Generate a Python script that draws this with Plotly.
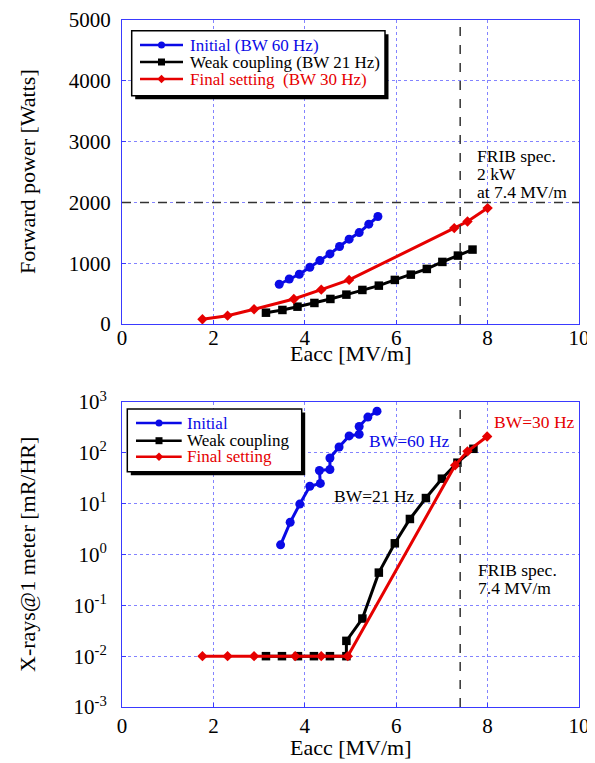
import plotly.graph_objects as go

# ---------------- data ----------------
# Top panel: forward power [W] vs Eacc [MV/m]
E_init_P = [3.44, 3.66, 3.88, 4.11, 4.33, 4.55, 4.76, 4.97, 5.19, 5.40, 5.60]
P_init = [654, 741, 818, 934, 1043, 1153, 1274, 1395, 1504, 1642, 1768]

E_weak_P = [3.15, 3.51, 3.84, 4.21, 4.56, 4.91, 5.26, 5.62, 5.97, 6.32, 6.67, 7.01, 7.35, 7.67]
P_weak = [186, 231, 285, 346, 412, 483, 560, 631, 725, 812, 906, 1021, 1125, 1224]

E_final_P = [1.76, 2.31, 2.89, 3.76, 4.36, 4.97, 7.27, 7.56, 8.00]
P_final = [77, 137, 242, 412, 565, 725, 1577, 1685, 1906]

# Bottom panel: X-rays @1 m [mR/HR] vs Eacc [MV/m]
E_init_X = [3.47, 3.68, 3.89, 4.11, 4.34, 4.32, 4.55, 4.55, 4.75, 4.97, 5.19, 5.19, 5.38, 5.58]
X_init = [1.55, 4.3, 9.8, 22, 25, 45, 47, 79, 130, 215, 232, 330, 505, 660]

E_weak_X = [3.15, 3.50, 3.85, 4.20, 4.55, 4.91, 4.91, 5.26, 5.62, 5.97, 6.30, 6.65, 7.00, 7.34, 7.69]
X_weak = [0.01, 0.01, 0.01, 0.01, 0.01, 0.01, 0.020, 0.055, 0.44, 1.66, 5.0, 12.9, 31, 64, 120]

E_final_X = [1.76, 2.31, 2.89, 3.79, 4.36, 4.94, 7.29, 7.56, 7.99]
X_final = [0.01, 0.01, 0.01, 0.01, 0.01, 0.01, 57, 107, 210]

spec_E = 7.4
spec_P = 2000

x_tickvals = [0, 2, 4, 6, 8, 10]
x_ticktext = ["0", "2", "4", "6", "8", "10"]
p_tickvals = [0, 1000, 2000, 3000, 4000, 5000]
p_ticktext = ["0", "1000", "2000", "3000", "4000", "5000"]
xr_tickvals = [1e-3, 1e-2, 1e-1, 1e0, 1e1, 1e2, 1e3]
xr_ticktext = ["10<sup>-3</sup>", "10<sup>-2</sup>", "10<sup>-1</sup>", "10<sup>0</sup>",
               "10<sup>1</sup>", "10<sup>2</sup>", "10<sup>3</sup>"]

legend1_labels = ["Initial (BW 60 Hz)", "Weak coupling (BW 21 Hz)", "Final setting\u00a0 (BW 30 Hz)"]
legend2_labels = ["Initial", "Weak coupling", "Final setting"]

x_title = "Eacc [MV/m]"
y_title_top = "Forward power [Watts]"
y_title_bot = "X-rays@1 meter [mR/HR]"

# ---------------- style ----------------
FONT = "Liberation Serif, Times New Roman, serif"
BLUE = "#0a0ae6"
BLACK = "#000000"
RED = "#e60000"
AXBLUE = "#3a3aff"
GRID = "rgba(90,90,255,0.75)"

# page has an 8px body margin; compensate so the plot lands where the reference has it
BODY = 8
PAGE_W, PAGE_H = 595, 763
PLOT_L, PLOT_R, PLOT_T, PLOT_B = 122, 579, 20, 707      # page pixels
W, H = PAGE_W - BODY, PAGE_H - BODY
ML, MT = PLOT_L - BODY, PLOT_T - BODY
MR, MB = PAGE_W - PLOT_R, PAGE_H - PLOT_B
PW, PH = PLOT_R - PLOT_L, PLOT_B - PLOT_T


def px(xp):
    return (xp - PLOT_L) / PW


def py(yp):
    return (PLOT_B - yp) / PH


fig = go.Figure()

series_top = [
    (E_init_P, P_init, BLUE, "circle", 9),
    (E_weak_P, P_weak, BLACK, "square", 8.5),
    (E_final_P, P_final, RED, "diamond", 8),
]
series_bot = [
    (E_init_X, X_init, BLUE, "circle", 9),
    (E_weak_X, X_weak, BLACK, "square", 8.5),
    (E_final_X, X_final, RED, "diamond", 8),
]
for (xs, ys, c, sym, sz), name in zip(series_top, legend1_labels):
    fig.add_trace(go.Scatter(x=xs, y=ys, mode="lines+markers", name=name, showlegend=False,
                             line=dict(color=c, width=3),
                             marker=dict(color=c, symbol=sym, size=sz),
                             xaxis="x", yaxis="y"))
for (xs, ys, c, sym, sz), name in zip(series_bot, legend2_labels):
    fig.add_trace(go.Scatter(x=xs, y=ys, mode="lines+markers", name=name, showlegend=False,
                             line=dict(color=c, width=3),
                             marker=dict(color=c, symbol=sym, size=sz),
                             xaxis="x2", yaxis="y2"))

axis_common = dict(showline=True, mirror=True, linecolor=AXBLUE, linewidth=1,
                   showgrid=True, gridcolor=GRID, griddash="dot", gridwidth=1,
                   ticks="inside", ticklen=4, tickcolor=AXBLUE, zeroline=False,
                   automargin=False,
                   tickfont=dict(family=FONT, size=21, color="black"))

fig.update_layout(
    width=W, height=H,
    margin=dict(l=ML, r=MR, t=MT, b=MB, autoexpand=False),
    paper_bgcolor="white", plot_bgcolor="white",
    font=dict(family=FONT, color="black"),
    xaxis=dict(domain=[0, 1], range=[0, 10], anchor="y", tickvals=x_tickvals, ticktext=x_ticktext,
               ticklabelstandoff=-5, **axis_common),
    yaxis=dict(domain=[py(324), 1], range=[0, 5000], anchor="x", tickvals=p_tickvals, ticktext=p_ticktext,
               ticklabelstandoff=6, **axis_common),
    xaxis2=dict(domain=[0, 1], range=[0, 10], anchor="y2", tickvals=x_tickvals, ticktext=x_ticktext,
                **axis_common),
    yaxis2=dict(domain=[0, py(402)], type="log", range=[-3, 3], anchor="x2",
                tickvals=xr_tickvals, ticktext=xr_ticktext, ticklabelstandoff=10,
                **axis_common),
)

shapes = []
dash_line = dict(color="#333333", width=1.5, dash="dash")
# spec lines
shapes.append(dict(type="line", xref="x", yref="y domain", x0=spec_E, x1=spec_E, y0=0, y1=1, line=dash_line))
shapes.append(dict(type="line", xref="x domain", yref="y", x0=0, x1=1, y0=spec_P, y1=spec_P, line=dash_line))
shapes.append(dict(type="line", xref="x2", yref="y2 domain", x0=spec_E, x1=spec_E, y0=0, y1=1, line=dash_line))

annotations = []

# axis titles
for (xp, yp, txt, ang) in [(350.5, 354, x_title, 0), (350.5, 747, x_title, 0),
                           (27, 172, y_title_top, -90), (27, 555, y_title_bot, -90)]:
    annotations.append(dict(xref="paper", yref="paper", x=px(xp), y=py(yp), text=txt, textangle=ang,
                            showarrow=False, xanchor="center", yanchor="middle",
                            font=dict(family=FONT, size=22, color="black")))


def manual_legend(box, rows, line_x, mark_x, text_x, labels, fsize):
    x0, y0, x1, y1 = box
    sh = 3.5
    shapes.append(dict(type="rect", xref="paper", yref="paper", layer="above",
                       x0=px(x0 + sh), x1=px(x1 + sh), y0=py(y1 + sh), y1=py(y0 + sh),
                       fillcolor="black", line=dict(width=0)))
    shapes.append(dict(type="rect", xref="paper", yref="paper", layer="above",
                       x0=px(x0), x1=px(x1), y0=py(y1), y1=py(y0),
                       fillcolor="white", line=dict(color="black", width=1.5)))
    specs = [(BLUE, "circle"), (BLACK, "square"), (RED, "diamond")]
    for (c, sym), ry, lab in zip(specs, rows, labels):
        shapes.append(dict(type="line", xref="paper", yref="paper", layer="above",
                           x0=px(line_x[0]), x1=px(line_x[1]), y0=py(ry), y1=py(ry),
                           line=dict(color=c, width=2.5)))
        r = 3.5
        if sym == "circle":
            shapes.append(dict(type="circle", xref="paper", yref="paper", layer="above",
                               x0=px(mark_x - r), x1=px(mark_x + r), y0=py(ry + r), y1=py(ry - r),
                               fillcolor=c, line=dict(color=c, width=0)))
        elif sym == "square":
            shapes.append(dict(type="rect", xref="paper", yref="paper", layer="above",
                               x0=px(mark_x - r), x1=px(mark_x + r), y0=py(ry + r), y1=py(ry - r),
                               fillcolor=c, line=dict(color=c, width=0)))
        else:
            d = 4.2
            path = "M {} {} L {} {} L {} {} L {} {} Z".format(
                px(mark_x - d), py(ry), px(mark_x), py(ry - d), px(mark_x + d), py(ry), px(mark_x), py(ry + d))
            shapes.append(dict(type="path", xref="paper", yref="paper", layer="above", path=path,
                               fillcolor=c, line=dict(color=c, width=0)))
        annotations.append(dict(xref="paper", yref="paper", x=px(text_x), y=py(ry), text=lab,
                                showarrow=False, xanchor="left", yanchor="middle",
                                font=dict(family=FONT, size=fsize, color=c)))


manual_legend((131.7, 30.7, 385, 95.7), [45, 62, 79], (140, 183), 161.5, 188, legend1_labels, 17)
manual_legend((127.3, 409, 301.7, 471.7), [423, 440.7, 456.7], (136, 181.7), 159, 185, legend2_labels, 17)


def note(x, y, text, color, xref, yref):
    annotations.append(dict(xref=xref, yref=yref, x=x, y=y, text=text, showarrow=False,
                            xanchor="left", yanchor="middle",
                            font=dict(family=FONT, size=17.5, color=color)))


note(7.72, 2768, "FRIB spec.", "black", "x", "y")
note(7.72, 2471, "2 kW", "black", "x", "y")
note(7.72, 2175, "at 7.4 MV/m", "black", "x", "y")
# log axis annotations use log10 values
note(5.36, 2.236, "BW=60 Hz", BLUE, "x2", "y2")
note(4.59, 1.153, "BW=21 Hz", "black", "x2", "y2")
note(8.10, 2.616, "BW=30 Hz", RED, "x2", "y2")
note(7.74, -0.303, "FRIB spec.", "black", "x2", "y2")
note(7.74, -0.657, "7.4 MV/m", "black", "x2", "y2")

fig.update_layout(shapes=shapes, annotations=annotations)
fig.write_html("out.html")
